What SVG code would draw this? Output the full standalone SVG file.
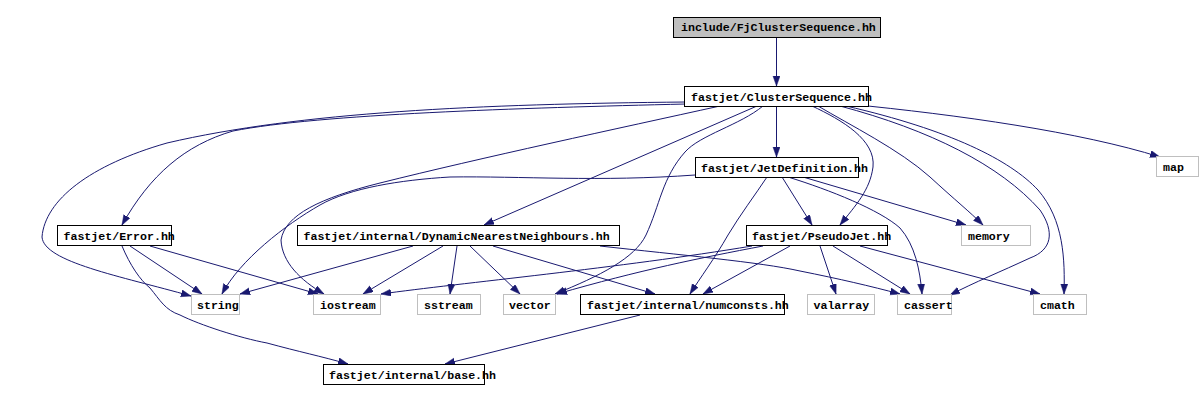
<svg xmlns="http://www.w3.org/2000/svg" width="1204" height="401" viewBox="0 0 1204 401">
<style>
.doc rect{fill:#ffffff;stroke:#000000;stroke-width:1}
.sys rect{fill:#ffffff;stroke:#bfbfbf;stroke-width:1}
#n_root rect{fill:#bfbfbf;stroke:#000000;stroke-width:1}
text{font-family:"Liberation Mono","DejaVu Sans Mono",monospace;font-size:11.6px;font-weight:bold;fill:#000000}
#edges path{fill:none;stroke:#191970;stroke-width:1;marker-end:url(#ah)}
</style>
<defs>
<marker id="ah" markerUnits="userSpaceOnUse" markerWidth="11" markerHeight="8" refX="10" refY="3.5" orient="auto">
<path d="M0,0 L10,3.5 L0,7 z" fill="#191970" stroke="#191970" stroke-width="0.5"/>
</marker>
</defs>
<rect x="0" y="0" width="1204" height="401" fill="#ffffff"/>
<g id="edges">
<path d="M776.5,37 L776.5,86"/>
<path d="M776.5,106 L776.5,157"/>
<path d="M686,104 C 520,108 320,114 233,131 C 185,145 150,175 122,225"/>
<path d="M686,102 C 480,104 300,112 167,143 C 90,165 45,200 42,237 C 44,262 120,276 191,296"/>
<path d="M757,106 L484,225"/>
<path d="M720,106 C 620,128 480,158 380,183 C 320,198 285,215 281,240 C 282,262 300,280 324,294"/>
<path d="M763,106 C 740,125 700,135 685,152 C 662,178 660,205 646,235 C 635,258 600,276 555,294"/>
<path d="M812,106 C 842,120 876,140 873,167 C 870,190 856,205 840,225"/>
<path d="M818,106 C 850,125 900,150 930,177 C 955,200 970,212 983,225"/>
<path d="M840,106 C 930,130 1000,165 1040,210 C 1055,232 1052,250 1030,258 C 1000,272 975,282 950,295"/>
<path d="M846,106 C 950,130 1010,160 1038,190 C 1064,220 1065,260 1064,294"/>
<path d="M848,104 C 960,115 1080,132 1160,157"/>
<path d="M695,175 C 600,182 520,176 450,177 C 400,180 350,188 320,205 C 285,225 240,260 222,294"/>
<path d="M782,177 L812,225"/>
<path d="M767,177 C 755,195 740,215 728,235 C 715,258 700,278 690,294"/>
<path d="M803,177 L966,225"/>
<path d="M788,177 C 830,190 880,210 900,228 C 915,245 920,270 922,294"/>
<path d="M130,246 L202,294"/>
<path d="M150,246 L318,294"/>
<path d="M122,246 C 130,265 140,280 150,288 C 160,300 165,310 180,315 C 200,325 240,338 267,343 C 300,352 320,356 348,364"/>
<path d="M640,315 L445,364"/>
<path d="M413,246 L240,294"/>
<path d="M443,246 L363,294"/>
<path d="M457,246 L450,294"/>
<path d="M470,246 L520,294"/>
<path d="M493,246 L655,294"/>
<path d="M600,246 C 680,255 760,262 800,271 C 840,279 870,286 900,294"/>
<path d="M752,246 C 620,268 460,283 381,294"/>
<path d="M763,246 C 700,258 640,270 557,294"/>
<path d="M790,246 L703,294"/>
<path d="M820,246 L836,294"/>
<path d="M833,246 L910,294"/>
<path d="M860,246 L1040,294"/>
</g>
<g id="n_root"><rect x="673.5" y="17.5" width="207" height="20"/><text x="681" y="31">include/FjClusterSequence.hh</text></g>
<g id="n_cs" class="doc"><rect x="684.5" y="86.5" width="184" height="20"/><text x="691" y="100.5">fastjet/ClusterSequence.hh</text></g>
<g id="n_jetdef" class="doc"><rect x="695.5" y="157.5" width="163" height="20"/><text x="701" y="171.5">fastjet/JetDefinition.hh</text></g>
<g id="n_map" class="sys"><rect x="1156.5" y="156.5" width="42" height="20"/><text x="1163" y="171">map</text></g>
<g id="n_error" class="doc"><rect x="57.5" y="225.5" width="114" height="20"/><text x="63.5" y="240">fastjet/Error.hh</text></g>
<g id="n_dnn" class="doc"><rect x="297.5" y="225.5" width="322" height="20"/><text x="303.5" y="240">fastjet/internal/DynamicNearestNeighbours.hh</text></g>
<g id="n_pj" class="doc"><rect x="746.5" y="225.5" width="141" height="20"/><text x="752" y="240">fastjet/PseudoJet.hh</text></g>
<g id="n_memory" class="sys"><rect x="961.5" y="225.5" width="69" height="20"/><text x="968" y="240">memory</text></g>
<g id="n_string" class="sys"><rect x="191.5" y="294.5" width="48" height="20"/><text x="197" y="308.5">string</text></g>
<g id="n_iostream" class="sys"><rect x="313.5" y="294.5" width="67" height="20"/><text x="320" y="308.5">iostream</text></g>
<g id="n_sstream" class="sys"><rect x="417.5" y="294.5" width="63" height="20"/><text x="424" y="308.5">sstream</text></g>
<g id="n_vector" class="sys"><rect x="503.5" y="294.5" width="52" height="20"/><text x="509" y="308.5">vector</text></g>
<g id="n_numconsts" class="doc"><rect x="580.5" y="294.5" width="204" height="20"/><text x="587" y="308.5">fastjet/internal/numconsts.hh</text></g>
<g id="n_valarray" class="sys"><rect x="807.5" y="294.5" width="67" height="20"/><text x="813.5" y="308.5">valarray</text></g>
<g id="n_cassert" class="sys"><rect x="897.5" y="294.5" width="54" height="20"/><text x="904" y="308.5">cassert</text></g>
<g id="n_cmath" class="sys"><rect x="1033.5" y="294.5" width="53" height="20"/><text x="1040" y="308.5">cmath</text></g>
<g id="n_base" class="doc"><rect x="323.5" y="364.5" width="161" height="20"/><text x="329" y="378.5">fastjet/internal/base.hh</text></g>
</svg>
